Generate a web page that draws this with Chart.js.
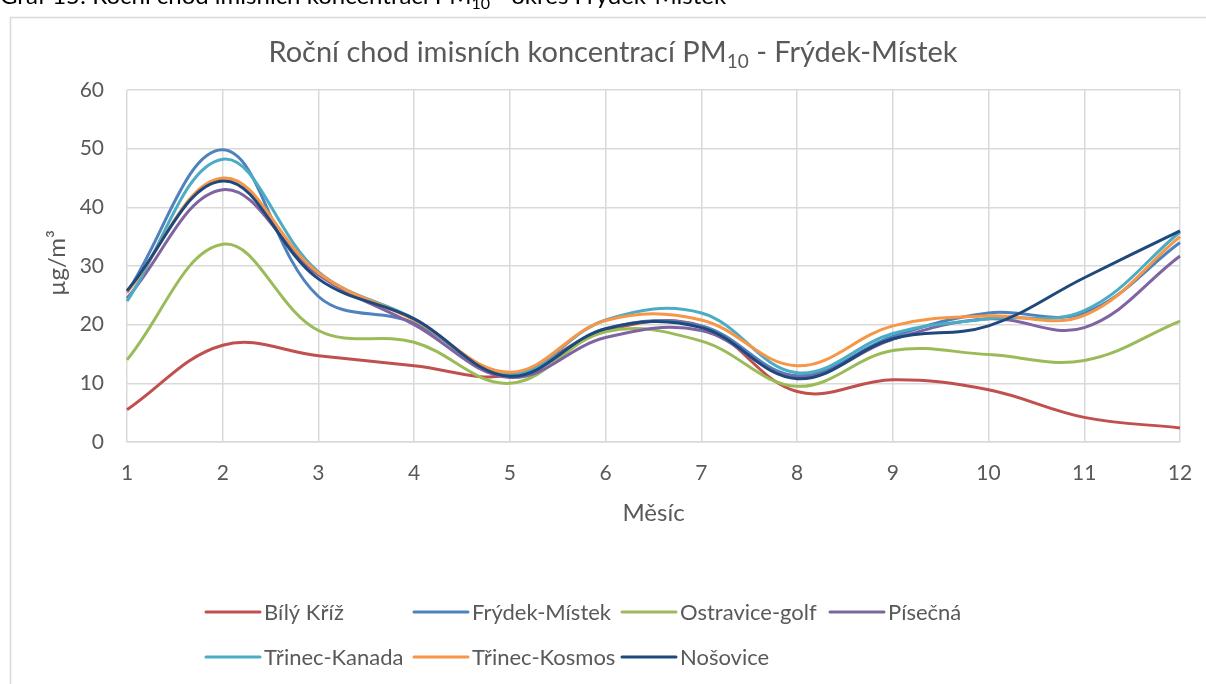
<!DOCTYPE html>
<html>
<head>
<meta charset="utf-8">
<script src="https://cdn.jsdelivr.net/npm/chart.js@4.4.1/dist/chart.umd.min.js"></script>
<style>
  html, body { margin: 0; padding: 0; background: #ffffff; overflow: hidden; }
  canvas { display: block; }
</style>
</head>
<body>
<canvas id="c" width="1206" height="684"></canvas>
<script>
// ---- data ----
const months = ['1','2','3','4','5','6','7','8','9','10','11','12'];
const seriesNames = ['Bílý Kříž','Frýdek-Místek','Ostravice-golf','Písečná','Třinec-Kanada','Třinec-Kosmos','Nošovice'];
const bilyKriz     = [5.5, 16.5, 14.7, 13.0, 11.4, 19.0, 19.8, 8.6, 10.6, 8.9, 4.2, 2.4];
const frydekMistek = [25.5, 49.8, 24.8, 20.3, 11.3, 19.3, 19.8, 11.3, 18.0, 22.0, 22.0, 34.0];
const ostravice    = [14.0, 33.7, 19.0, 17.0, 10.0, 18.8, 17.2, 9.5, 15.6, 14.9, 13.9, 20.6];
const pisecna      = [24.5, 43.0, 28.5, 20.0, 11.0, 17.8, 19.0, 11.0, 17.5, 21.0, 19.5, 31.7];
const trinecKanada = [24.0, 48.2, 29.0, 21.0, 11.5, 20.8, 22.0, 11.8, 18.5, 21.0, 22.4, 35.8];
const trinecKosmos = [25.5, 45.0, 28.8, 20.8, 11.9, 20.7, 20.8, 13.0, 19.8, 21.5, 21.6, 35.0];
const nosovice     = [25.8, 44.5, 27.8, 21.0, 11.2, 19.3, 19.5, 10.8, 17.6, 19.8, 28.0, 36.0];
const yTicks = [0, 10, 20, 30, 40, 50, 60];
const seriesValues = [bilyKriz, frydekMistek, ostravice, pisecna, trinecKanada, trinecKosmos, nosovice];
const seriesColors = ['#C0504D','#4F81BD','#9BBB59','#8064A2','#4BACC6','#F79646','#1F497D'];

const FONT = 'Lato, "Open Sans", sans-serif';
const TXT = '#595959';

function drawSubText(ctx, parts, x, y, size, align) {
  let total = 0;
  const widths = parts.map(p => {
    ctx.font = (p[1] ? Math.round(size * 0.65) : size) + 'px ' + FONT;
    const w = ctx.measureText(p[0]).width;
    total += w;
    return w;
  });
  let cx = align === 'center' ? x - total / 2 : x;
  ctx.textAlign = 'left';
  ctx.textBaseline = 'alphabetic';
  parts.forEach((p, i) => {
    ctx.font = (p[1] ? Math.round(size * 0.65) : size) + 'px ' + FONT;
    ctx.fillText(p[0], cx, p[1] ? y + size * 0.22 : y);
    cx += widths[i];
  });
}

const decor = {
  id: 'decor',
  beforeDraw(chart) {
    const ctx = chart.ctx;
    ctx.save();
    ctx.fillStyle = '#ffffff';
    ctx.fillRect(0, 0, chart.width, chart.height);
    // frame
    ctx.strokeStyle = '#d9d9d9';
    ctx.lineWidth = 1.5;
    ctx.beginPath();
    ctx.moveTo(10.5, chart.height + 2);
    ctx.lineTo(10.5, 17.5);
    ctx.lineTo(chart.width + 2, 17.5);
    ctx.stroke();
    // caption (cut off at top)
    ctx.fillStyle = '#000000';
    drawSubText(ctx, [['Graf 15: Roční chod imisních koncentrací PM', false], ['10', true], [' - okres Frýdek-Místek', false]], 0, 4, 24, 'left');
    // title
    ctx.fillStyle = TXT;
    drawSubText(ctx, [['Roční chod imisních koncentrací PM', false], ['10', true], [' - Frýdek-Místek', false]], 613, 62, 29, 'center');
    // axis titles
    const ca = chart.chartArea;
    ctx.font = '24px ' + FONT;
    ctx.textAlign = 'center';
    ctx.textBaseline = 'middle';
    ctx.fillText('Měsíc', (ca.left + ca.right) / 2, 513);
    ctx.save();
    ctx.translate(57, (ca.top + ca.bottom) / 2 - 3);
    ctx.rotate(-Math.PI / 2);
    ctx.fillText('µg/m³', 0, 0);
    ctx.restore();
    // legend
    chart.data.datasets.forEach((ds, i) => {
      const col = i % 4, row = Math.floor(i / 4);
      const x0 = 206 + col * 208;
      const y0 = 612 + row * 45;
      ctx.strokeStyle = ds.borderColor;
      ctx.lineWidth = 3;
      ctx.lineCap = 'round';
      ctx.beginPath();
      ctx.moveTo(x0, y0);
      ctx.lineTo(x0 + 54, y0);
      ctx.stroke();
      ctx.fillStyle = TXT;
      ctx.font = '22px ' + FONT;
      ctx.textAlign = 'left';
      ctx.textBaseline = 'middle';
      ctx.fillText(ds.label, x0 + 58, y0 + 1);
    });
    ctx.restore();
  }
};

const datasets = seriesNames.map((name, i) => ({
  label: name,
  data: seriesValues[i],
  borderColor: seriesColors[i],
  backgroundColor: seriesColors[i],
  borderWidth: 3,
  pointRadius: 0,
  pointHoverRadius: 0,
  tension: 0.38,
  fill: false,
  order: seriesNames.length - i,
  clip: 6
}));

new Chart(document.getElementById('c'), {
  type: 'line',
  data: { labels: months, datasets: datasets },
  options: {
    responsive: false,
    animation: false,
    devicePixelRatio: 1,
    layout: { padding: { top: 90, right: 26, bottom: 0, left: 0 } },
    plugins: { legend: { display: false }, title: { display: false }, tooltip: { enabled: false } },
    scales: {
      x: {
        type: 'category',
        offset: false,
        grid: { color: '#d9d9d9', lineWidth: 1.5, drawTicks: false },
        border: { color: '#d9d9d9', width: 1.5 },
        ticks: { color: TXT, font: { family: FONT, size: 21 }, padding: 19, maxRotation: 0, autoSkip: false },
        afterFit(scale) { scale.height = 242; scale.paddingRight = 0; scale.paddingLeft = 0; }
      },
      y: {
        min: 0, max: 60,
        grid: { color: '#d9d9d9', lineWidth: 1.5, drawTicks: false },
        border: { display: false },
        afterBuildTicks(scale) { scale.ticks = yTicks.map(v => ({ value: v })); },
        ticks: { color: TXT, font: { family: FONT, size: 21 }, padding: 23 },
        afterFit(scale) { scale.width = 127; scale.paddingTop = 0; scale.paddingBottom = 0; }
      }
    }
  },
  plugins: [decor]
});
</script>
</body>
</html>
